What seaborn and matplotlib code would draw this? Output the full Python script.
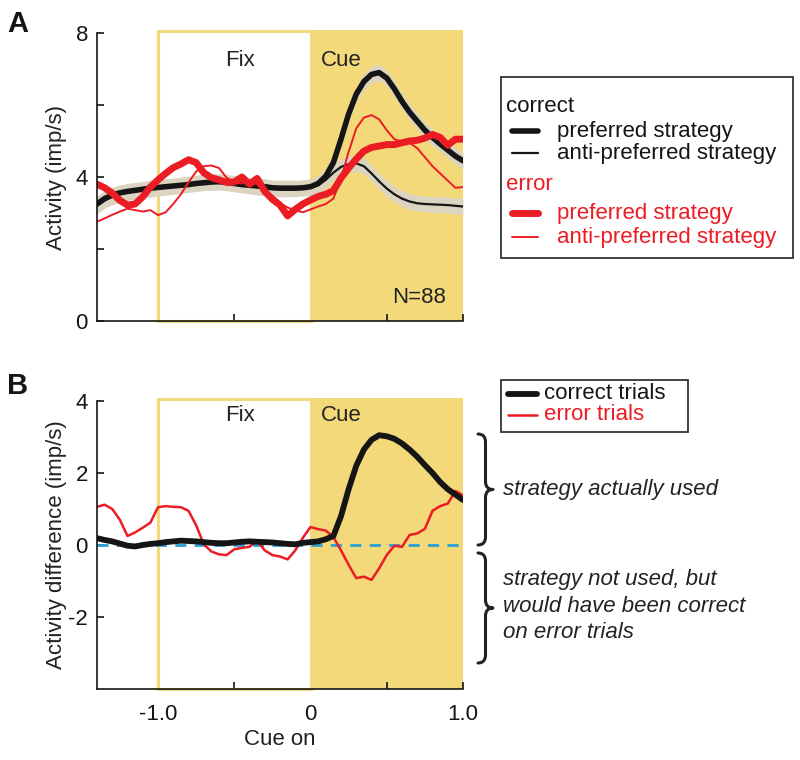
import numpy as np
import matplotlib
matplotlib.use("Agg")
import matplotlib.pyplot as plt
import seaborn as sns
from matplotlib.patches import Rectangle, PathPatch
from matplotlib.lines import Line2D
from matplotlib.path import Path

# ---------------- data ----------------
time_s = [-1.40, -1.35, -1.30, -1.25, -1.20, -1.15, -1.10, -1.05, -1.00, -0.95,
          -0.90, -0.85, -0.80, -0.75, -0.70, -0.65, -0.60, -0.55, -0.50, -0.45,
          -0.40, -0.35, -0.30, -0.25, -0.20, -0.15, -0.10, -0.05, 0.00, 0.05,
          0.10, 0.15, 0.20, 0.25, 0.30, 0.35, 0.40, 0.45, 0.50, 0.55,
          0.60, 0.65, 0.70, 0.75, 0.80, 0.85, 0.90, 0.95, 1.00]

# Panel A: activity (imp/s)
correct_pref = [3.25, 3.40, 3.50, 3.56, 3.60, 3.63, 3.66, 3.69, 3.71, 3.73,
                3.75, 3.77, 3.79, 3.82, 3.84, 3.86, 3.87, 3.85, 3.82, 3.79,
                3.77, 3.75, 3.73, 3.70, 3.69, 3.69, 3.69, 3.70, 3.73, 3.82,
                4.02, 4.40, 5.05, 5.75, 6.30, 6.65, 6.85, 6.90, 6.75, 6.45,
                6.10, 5.80, 5.55, 5.30, 5.10, 4.92, 4.75, 4.58, 4.45]
correct_anti = [3.20, 3.35, 3.45, 3.52, 3.57, 3.60, 3.63, 3.66, 3.69, 3.72,
                3.74, 3.77, 3.80, 3.83, 3.85, 3.86, 3.86, 3.84, 3.81, 3.78,
                3.75, 3.72, 3.70, 3.68, 3.67, 3.67, 3.68, 3.69, 3.70, 3.77,
                3.92, 4.12, 4.28, 4.36, 4.38, 4.30, 4.10, 3.88, 3.68, 3.52,
                3.40, 3.32, 3.27, 3.25, 3.24, 3.23, 3.22, 3.20, 3.18]
error_pref = [3.80, 3.70, 3.55, 3.35, 3.22, 3.25, 3.45, 3.72, 3.92, 4.10,
              4.26, 4.36, 4.48, 4.40, 4.12, 3.98, 3.92, 3.85, 3.86, 4.00,
              3.80, 3.96, 3.60, 3.38, 3.22, 2.92, 3.10, 3.25, 3.36, 3.46,
              3.52, 3.62, 3.97, 4.25, 4.50, 4.72, 4.82, 4.86, 4.90, 4.90,
              4.95, 5.00, 5.02, 5.08, 5.18, 5.10, 4.88, 5.05, 5.05]
error_anti = [2.76, 2.85, 2.95, 3.04, 3.12, 3.08, 3.04, 3.08, 2.94, 3.02,
              3.25, 3.52, 3.85, 4.15, 4.30, 4.32, 4.25, 3.98, 3.85, 3.82,
              3.86, 3.80, 3.62, 3.48, 3.28, 3.15, 3.08, 3.02, 3.10, 3.18,
              3.25, 3.40, 3.95, 4.70, 5.35, 5.65, 5.72, 5.60, 5.30, 5.05,
              4.98, 4.95, 4.80, 4.55, 4.30, 4.10, 3.90, 3.70, 3.72]
sem_band = 0.22

# Panel B: activity difference (imp/s)
correct_diff = [0.19, 0.14, 0.10, 0.04, -0.02, -0.04, 0.00, 0.03, 0.05, 0.08,
                0.10, 0.12, 0.11, 0.10, 0.08, 0.06, 0.05, 0.05, 0.07, 0.09,
                0.10, 0.09, 0.08, 0.07, 0.05, 0.03, 0.02, 0.06, 0.08, 0.10,
                0.16, 0.25, 0.80, 1.55, 2.20, 2.65, 2.92, 3.05, 3.02, 2.95,
                2.82, 2.65, 2.45, 2.22, 2.00, 1.75, 1.55, 1.40, 1.25]
error_diff = [1.06, 1.12, 1.00, 0.70, 0.25, 0.35, 0.48, 0.62, 1.05, 1.08,
              1.06, 1.05, 0.95, 0.55, 0.02, -0.18, -0.26, -0.28, -0.12, -0.08,
              -0.05, 0.12, -0.15, -0.28, -0.32, -0.40, -0.15, 0.20, 0.50, 0.44,
              0.40, 0.22, -0.15, -0.55, -0.92, -0.88, -0.97, -0.65, -0.28, -0.02,
              -0.05, 0.28, 0.32, 0.45, 0.95, 1.08, 1.15, 1.50, 1.38]

x_ticks = [-1.0, -0.5, 0.0, 0.5, 1.0]
x_ticklabels = ["-1.0", "", "0", "", "1.0"]
yA_ticks = [0, 2, 4, 6, 8]
yA_ticklabels = ["0", "", "4", "", "8"]
yB_ticks = [-2, 0, 2, 4]
yB_ticklabels = ["-2", "0", "2", "4"]

# ---------------- style ----------------
sns.set_style("ticks")
plt.rcParams['font.family'] = ['Liberation Sans', 'DejaVu Sans']
plt.rcParams['axes.unicode_minus'] = False

YELLOW = '#F3D97A'
RED = '#EC1C24'
BLACK = '#151515'
BAND = '#DAD4C1'
TXT = '#222222'
BLUE = '#2A9FD6'
FS = 16

W, H = 800, 760
fig = plt.figure(figsize=(8, 7.6), dpi=100)


def fx(px):
    return px / W


def fy(py):
    return 1 - py / H


axA = fig.add_axes([fx(97), fy(321), fx(463) - fx(97), fy(33) - fy(321)])
axB = fig.add_axes([fx(97), fy(689), fx(463) - fx(97), fy(401) - fy(689)])


def style_axis(ax, ylim, yticks, yticklabels, xticklabels):
    ax.set_xlim(-1.4, 1.0)
    ax.set_ylim(*ylim)
    ax.set_xticks(x_ticks)
    ax.set_xticklabels(xticklabels)
    ax.set_yticks(yticks)
    ax.set_yticklabels(yticklabels)
    sns.despine(ax=ax)
    for s in ['left', 'bottom']:
        ax.spines[s].set_linewidth(1.2)
        ax.spines[s].set_color(BLACK)
        ax.spines[s].set_zorder(6)
    ax.tick_params(axis='both', direction='in', length=5, width=1.2,
                   labelsize=FS, colors=BLACK)
    ax.tick_params(axis='y', pad=6.5)
    ax.tick_params(axis='x', pad=11)
    # task epochs
    ax.axvspan(0, 1, ymin=0, ymax=1.01, color=YELLOW, lw=0, zorder=0, clip_on=False)
    ax.add_patch(Rectangle((-1, ylim[0]), 1, (ylim[1] - ylim[0]) * 1.008,
                           fill=False, edgecolor=YELLOW, lw=2.2, zorder=1,
                           clip_on=False))


# ---------------- panel A ----------------
style_axis(axA, (0, 8), yA_ticks, yA_ticklabels, [""] * 5)
t = np.array(time_s)
for series in (correct_pref, correct_anti):
    s = np.array(series)
    axA.fill_between(t, s - sem_band, s + sem_band, color=BAND, lw=0, zorder=2)
sns.lineplot(x=time_s, y=correct_anti, ax=axA, color=BLACK, linewidth=1.6, zorder=3)
sns.lineplot(x=time_s, y=correct_pref, ax=axA, color=BLACK, linewidth=4.0, zorder=3)
sns.lineplot(x=time_s, y=error_pref, ax=axA, color=RED, linewidth=5.0, zorder=4)
sns.lineplot(x=time_s, y=error_anti, ax=axA, color=RED, linewidth=1.4, zorder=5)
axA.set_ylabel("Activity (imp/s)", fontsize=FS, color=TXT)
axA.yaxis.set_label_coords(-0.083, 0.5)
axA.text(-0.46, 7.25, "Fix", ha='center', va='center', fontsize=FS, color=TXT)
axA.text(0.07, 7.25, "Cue", ha='left', va='center', fontsize=FS, color=TXT)
axA.text(0.89, 0.64, "N=88", ha='right', va='center', fontsize=FS, color=TXT)

# ---------------- panel B ----------------
style_axis(axB, (-4, 4), yB_ticks, yB_ticklabels, x_ticklabels)
axB.axhline(0, color=BLUE, lw=2, ls=(0, (4, 3)), zorder=3)
sns.lineplot(x=time_s, y=error_diff, ax=axB, color=RED, linewidth=1.8, zorder=4)
sns.lineplot(x=time_s, y=correct_diff, ax=axB, color=BLACK, linewidth=4.2, zorder=5)
axB.set_ylabel("Activity difference (imp/s)", fontsize=FS, color=TXT)
axB.yaxis.set_label_coords(-0.083, 0.5)
axB.set_xlabel("Cue on", fontsize=FS, color=TXT)
axB.xaxis.set_label_coords(0.5, -0.139)
axB.text(-0.46, 3.61, "Fix", ha='center', va='center', fontsize=FS, color=TXT)
axB.text(0.07, 3.61, "Cue", ha='left', va='center', fontsize=FS, color=TXT)

# ---------------- panel letters ----------------
fig.text(fx(7), fy(32), "A", fontsize=21, weight='bold', color=BLACK, va='baseline')
fig.text(fx(7), fy(394), "B", fontsize=21, weight='bold', color=BLACK, va='baseline')

# ---------------- legend A ----------------
fig.patches.append(Rectangle((fx(501), fy(258)), fx(793) - fx(501), fy(77) - fy(258),
                             transform=fig.transFigure, fill=True, facecolor='white',
                             edgecolor='#333333', lw=1.3))
fig.text(fx(506), fy(106), "correct", fontsize=FS, color=BLACK, va='center')
fig.text(fx(506), fy(185), "error", fontsize=FS, color=RED, va='center')
legA = [(131, BLACK, 4.0, "preferred strategy"),
        (153, BLACK, 1.6, "anti-preferred strategy"),
        (213, RED, 5.0, "preferred strategy"),
        (237, RED, 1.4, "anti-preferred strategy")]
for yy, c, lw, lab in legA:
    fig.lines.append(Line2D([fx(512), fx(538)], [fy(yy), fy(yy)], color=c, lw=lw,
                            transform=fig.transFigure))
    fig.text(fx(557), fy(yy), lab, fontsize=FS, color=c, va='center')

# ---------------- legend B ----------------
fig.patches.append(Rectangle((fx(501), fy(432)), fx(688) - fx(501), fy(380) - fy(432),
                             transform=fig.transFigure, fill=True, facecolor='white',
                             edgecolor='#333333', lw=1.3))
legB = [(394, BLACK, 4.2, "correct trials", BLACK),
        (415, RED, 1.8, "error trials", RED)]
for yy, c, lw, lab, tc in legB:
    fig.lines.append(Line2D([fx(508), fx(537)], [fy(yy), fy(yy)], color=c, lw=lw,
                            transform=fig.transFigure))
    fig.text(fx(544), fy(yy), lab, fontsize=FS, color=tc, va='center')


# ---------------- braces ----------------
def brace(y0, y1, xl=478, xm=485.5, xt=493, r=8):
    ym = (y0 + y1) / 2
    pts = [(xl, y0),
           (xm, y0), (xm, y0 + r),
           (xm, ym - r),
           (xm, ym), (xt, ym),
           (xm, ym), (xm, ym + r),
           (xm, y1 - r),
           (xm, y1), (xl, y1)]
    codes = [Path.MOVETO, Path.CURVE3, Path.CURVE3, Path.LINETO,
             Path.CURVE3, Path.CURVE3, Path.CURVE3, Path.CURVE3,
             Path.LINETO, Path.CURVE3, Path.CURVE3]
    verts = [(fx(x), fy(y)) for x, y in pts]
    fig.patches.append(PathPatch(Path(verts, codes), transform=fig.transFigure,
                                 fill=False, edgecolor=TXT, lw=2.2,
                                 capstyle='round', joinstyle='round'))


brace(434, 545)
brace(553, 663)
fig.text(fx(503), fy(490), "strategy actually used", fontsize=FS, style='italic',
         color=TXT, va='center')
for yy, line in [(580, "strategy not used, but"),
                 (607, "would have been correct"),
                 (633, "on error trials")]:
    fig.text(fx(503), fy(yy), line, fontsize=FS, style='italic', color=TXT, va='center')

fig.savefig("out.png", dpi=100)
